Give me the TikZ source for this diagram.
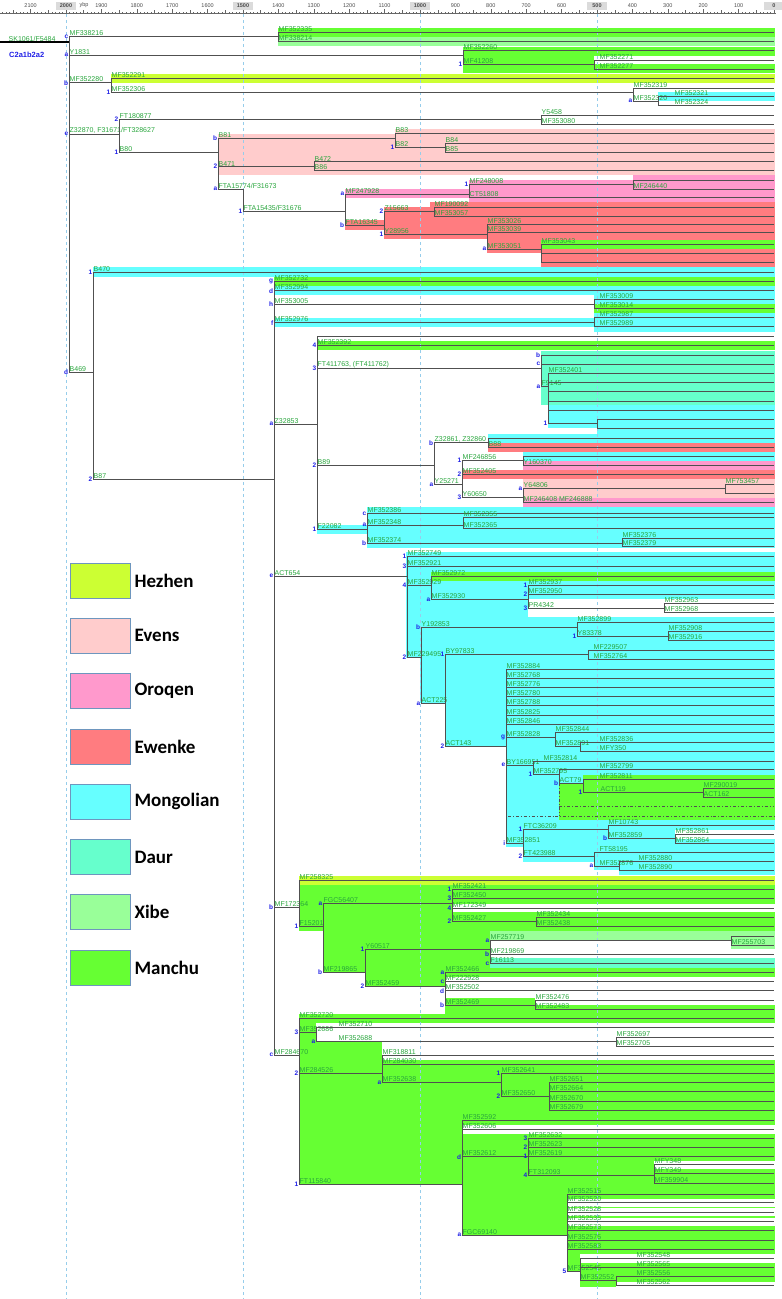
\documentclass[tikz,border=0pt]{standalone}
\usepackage{fontspec}
\setmainfont{Liberation Sans}
\newfontfamily\legfont{Carlito}
\usetikzlibrary{positioning}

\definecolor{hezhen}{HTML}{CCFF33}
\definecolor{evens}{HTML}{FFCCCC}
\definecolor{oroqen}{HTML}{FF99CC}
\definecolor{ewenke}{HTML}{FF7C80}
\definecolor{mongolian}{HTML}{66FFFF}
\definecolor{daur}{HTML}{66FFCC}
\definecolor{xibe}{HTML}{99FF99}
\definecolor{manchu}{HTML}{66FF33}
\definecolor{labgreen}{RGB}{40,165,60}
\definecolor{tagblue}{RGB}{30,30,230}
\definecolor{branch}{RGB}{80,80,80}
\definecolor{guidecol}{RGB}{150,205,235}
\definecolor{legedge}{RGB}{110,150,190}

\newcommand\xend{774}
\tikzset{
  edge/.style={draw=branch, line width=0.9pt},
  lbl/.style={anchor=south west, inner sep=0.5pt, text=labgreen, font=\fontsize{7}{8}\selectfont},
  tg/.style={anchor=east, inner sep=0.6pt, text=tagblue, font=\fontsize{6.5}{7}\selectfont\bfseries},
  guide/.style={draw=guidecol, dashed, line width=0.5pt},
  rul/.style={draw=black!60, line width=0.4pt},
  rlab/.style={inner sep=0pt, text=black!70, font=\fontsize{5.5}{6}\selectfont},
  legbox/.style={draw=legedge, line width=0.8pt, minimum width=60pt, minimum height=35pt, inner sep=0pt},
  legtxt/.style={inner sep=1pt, font=\legfont\bfseries\fontsize{19}{20}\selectfont},
  hapl/.style={anchor=west, inner sep=0pt, text=tagblue, font=\fontsize{7.5}{8}\selectfont\bfseries}
}
% band: colour, left x, top y, bottom y
\newcommand\band[4]{\fill[#1] (#2,#3) rectangle (\xend+1,#4);}
% branch: [label shift]{parent}{name}{x}{y}{label}{tag}
\newcommand\tbr[7][0]{%
  \coordinate (#3) at (#4,#5);
  \draw[edge] (#2) |- (#3);
  \node[lbl, xshift=#1] (#3-l) at (#2 |- #3) {#6};
  \node[tg] (#3-t) at (#2 |- #3) {#7};}
\newcommand\tleaf[6][0]{\tbr[#1]{#2}{#3}{\xend}{#4}{#5}{#6}}

\begin{document}
\begin{tikzpicture}[x=1pt,y=-1pt]
\useasboundingbox (0,0) rectangle (782,1299);

% population bands
\band{manchu}{278}{27.7}{36.7}
\band{xibe}{278}{36.7}{46}
\band{manchu}{463}{46.5}{73.3}
\band{white}{594}{55.5}{64.3}
\band{hezhen}{111}{73.5}{83}
\band{mongolian}{658}{92}{101}
\band{evens}{218}{134}{175}
\band{evens}{395}{129.3}{134}
\band{oroqen}{345}{189}{197.5}
\band{oroqen}{469}{179.5}{202}
\band{oroqen}{633}{175}{179.5}
\band{ewenke}{345}{220}{229.5}
\band{ewenke}{430}{202}{207}
\band{ewenke}{384}{207}{239}
\band{ewenke}{487}{239}{253}
\band{ewenke}{541}{253}{267}
\band{manchu}{541}{240}{249}
\band{mongolian}{93}{267}{276.5}
\band{manchu}{274}{276.5}{286}
\band{mongolian}{274}{286}{295}
\band{mongolian}{594}{295}{304}
\band{manchu}{594}{304}{313}
\band{mongolian}{594}{313}{331.5}
\band{mongolian}{274}{317.5}{327}
\band{manchu}{317}{341}{350}
\band{daur}{541}{350.5}{405}
\band{mongolian}{548}{405}{428}
\band{mongolian}{597}{428}{433.5}
\band{mongolian}{488}{433.5}{443}
\band{ewenke}{488}{443}{452}
\band{mongolian}{523}{452}{461}
\band{oroqen}{523}{461}{470}
\band{ewenke}{462}{470}{479.3}
\band{evens}{523}{479.3}{497.5}
\band{oroqen}{523}{497.5}{507}
\band{mongolian}{367}{507}{548}
\band{mongolian}{317}{525}{534}
\band{mongolian}{406}{552}{658}
\band{mongolian}{420}{658}{703}
\band{mongolian}{445}{703}{747}
\band{mongolian}{506}{747}{847}
\band{mongolian}{523}{847}{862}
\band{mongolian}{594}{862}{870}
\band{mongolian}{619}{870}{875}
\band{manchu}{431}{571.7}{580.7}
\band{white}{528}{599}{617}
\band{manchu}{583}{774.5}{783}
\band{manchu}{559}{783}{820}
\band{white}{675}{830}{838.5}
\band{hezhen}{299}{876}{885}
\band{manchu}{299}{885}{931}
\band{white}{452}{903.5}{912}
\band{manchu}{323}{931}{972.5}
\band{xibe}{490}{931}{941}
\band{white}{490}{941}{958}
\band{xibe}{731}{941}{948.5}
\band{daur}{490}{958}{967.5}
\band{manchu}{365}{972.5}{986.5}
\band{white}{445}{977}{996}
\band{manchu}{445}{998}{1013.5}
\band{white}{535}{995.5}{1004.5}
\band{manchu}{299}{1014}{1184}
\band{white}{316}{1023}{1042}
\band{white}{382}{1042}{1060}
\band{white}{462}{1124.5}{1133.5}
\band{white}{654}{1160.5}{1168.5}
\band{manchu}{462}{1184}{1235}
\band{white}{567}{1198.5}{1206.5}
\band{white}{567}{1208}{1216}
\band{white}{567}{1217.5}{1225.5}
\band{manchu}{567}{1235}{1272}
\band{manchu}{580}{1272}{1287}
\band{white}{580}{1254}{1262.5}
\band{white}{616}{1281.5}{1290}

% time guides
\foreach \t in {500,1000,1500,2000}
  \draw[guide] ({\xend-0.354*\t},14) -- ({\xend-0.354*\t},1299);

% ruler
\draw[rul] (0,13.5) -- (\xend+2,13.5);
\foreach \t in {0,10,...,2180}{
  \pgfmathsetmacro\tx{\xend-0.354*\t}
  \pgfmathsetmacro\th{mod(\t,100)==0 ? 5 : (mod(\t,50)==0 ? 3.5 : 2)}
  \draw[rul] (\tx,13.5) -- (\tx,13.5-\th);
}
\foreach \t in {100,200,300,400,600,700,800,900,1100,1200,1300,1400,1600,1700,1800,1900,2100}
  \node[rlab] (r\t) at ({\xend-0.354*\t},5.5) {\t};
\foreach \t in {0,500,1000,1500,2000}{
  \fill[gray!28] ({\xend-0.354*\t-10},1.5) rectangle ({\xend-0.354*\t+10},9.5);
  \node[rlab, font=\fontsize{5.5}{6}\selectfont\bfseries] (r\t) at ({\xend-0.354*\t},5.5) {\t};
}
\node[rlab] (ybp) at (84,5.5) {ybp};

% tree
\coordinate (root) at (0,42);
\coordinate (n0) at (69,42);
\draw[edge, draw=black, line width=1.3pt] (root) -- (n0);
\node[lbl, xshift=8] (root-l) at (root) {SK1061/F5484};
\node[hapl] (hap) at (9,55) {C2a1b2a2};

\tbr{n0}{mf338216}{278}{36.7}{MF338216}{c}
 \tleaf{mf338216}{mf352335}{32.3}{MF352335}{}
 \tleaf{mf338216}{mf338214}{41.7}{MF338214}{}
\tbr{n0}{y1831}{463}{55}{Y1831}{a}
 \tleaf{y1831}{mf352260}{50.7}{MF352260}{}
 \tbr{y1831}{mf41208}{594}{64.7}{MF41208}{1}
  \tleaf[5]{mf41208}{mf352271}{60}{MF352271}{}
  \tleaf[5]{mf41208}{mf352277}{69}{MF352277}{}
\tbr{n0}{mf352280}{111}{82.7}{MF352280}{b}
 \tleaf{mf352280}{mf352291}{78.7}{MF352291}{}
 \tbr{mf352280}{mf352306}{633}{92}{MF352306}{1}
  \tleaf{mf352306}{mf352319}{88}{MF352319}{}
  \tbr{mf352306}{mf352320}{658}{101}{MF352320}{a}
   \tleaf[16]{mf352320}{mf352321}{96.7}{MF352321}{}
   \tleaf[16]{mf352320}{mf352324}{105.7}{MF352324}{}
\tbr{n0}{z32870}{119}{134}{Z32870, F31671/FT328627}{e}
 \tbr{z32870}{ft180877}{541}{119.7}{FT180877}{2}
  \tleaf{ft180877}{y5458}{115.3}{Y5458}{}
  \tleaf{ft180877}{mf353080}{124.3}{MF353080}{}
 \tbr{z32870}{b80}{218}{152.7}{B80}{1}
  \tbr{b80}{b81}{395}{138.3}{B81}{b}
   \tleaf{b81}{b83}{133.7}{B83}{}
   \tbr{b81}{b82}{445}{147.3}{B82}{1}
    \tleaf{b82}{b84}{143.3}{B84}{}
    \tleaf{b82}{b85}{152.3}{B85}{}
  \tbr{b80}{b471}{314}{166.7}{B471}{2}
   \tleaf{b471}{b472}{161.7}{B472}{}
   \tleaf{b471}{b86}{170.7}{B86}{}
  \tbr{b80}{fta15774}{243}{189}{FTA15774/F31673}{a}
   \tbr{fta15774}{fta15435}{345}{211.3}{FTA15435/F31676}{1}
    \tbr{fta15435}{mf247928}{469}{194}{MF247928}{a}
     \tbr{mf247928}{mf248008}{633}{184.3}{MF248008}{1}
      \tleaf{mf248008}{u1}{180}{}{}
      \tleaf{mf248008}{mf246440}{189}{MF246440}{}
     \tleaf{mf247928}{ct51808}{197.5}{CT51808}{}
    \tbr{fta15435}{fta16345}{384}{225}{FTA16345}{b}
     \tbr{fta16345}{z15663}{434}{211.7}{Z15663}{2}
      \tleaf{z15663}{mf190092}{207.3}{MF190092}{}
      \tleaf{z15663}{mf353057}{216.7}{MF353057}{}
     \tbr{fta16345}{y28956}{487}{234}{Y28956}{1}
      \tleaf{y28956}{mf353026}{224.5}{MF353026}{}
      \tleaf{y28956}{mf353039}{232.5}{MF353039}{}
      \tbr{y28956}{mf353051}{541}{249}{MF353051}{a}
       \tleaf{mf353051}{mf353043}{244.5}{MF353043}{}
       \tleaf{mf353051}{u2}{253.5}{}{}
       \tleaf{mf353051}{u3}{262.7}{}{}
\tbr{n0}{b469}{93}{372}{B469}{d}
 \tleaf{b469}{b470}{272}{B470}{1}
 \tbr{b469}{b87}{274}{479}{B87}{2}
  \tleaf{b87}{mf352732}{281.7}{MF352732}{g}
  \tleaf{b87}{mf352994}{290.7}{MF352994}{d}
  \tbr{b87}{mf353005}{594}{304.3}{MF353005}{h}
   \tleaf[5]{mf353005}{mf353009}{299.3}{MF353009}{}
   \tleaf[5]{mf353005}{mf353014}{308}{MF353014}{}
  \tbr{b87}{mf352976}{594}{322.7}{MF352976}{f}
   \tleaf[5]{mf352976}{mf352987}{317.3}{MF352987}{}
   \tleaf[5]{mf352976}{mf352989}{326.3}{MF352989}{}
  \tbr{b87}{z32853}{317}{424}{Z32853}{a}
   \tleaf{z32853}{u4}{336.7}{}{}
   \tleaf{z32853}{mf352392}{345.7}{MF352392}{4}
   \tbr{z32853}{ft411763}{541}{368.3}{FT411763, (FT411762)}{3}
    \tleaf{ft411763}{u5}{355}{}{b}
    \tleaf{ft411763}{u6}{364}{}{c}
    \tbr{ft411763}{f9145}{548}{386.7}{F9145}{a}
     \tleaf{f9145}{mf352401}{373.3}{MF352401}{}
     \tleaf{f9145}{u7}{382.7}{}{}
     \tleaf{f9145}{u8}{391.7}{}{}
     \tleaf{f9145}{u9}{401.7}{}{}
     \tleaf{f9145}{u10}{410.7}{}{}
     \tbr{f9145}{n1a}{597}{423}{}{1}
      \tleaf{n1a}{u11}{419.3}{}{}
      \tleaf{n1a}{u12}{428}{}{}
   \tbr{z32853}{b89}{434}{465.7}{B89}{2}
    \tbr{b89}{z32861}{488}{442.7}{Z32861, Z32860}{b}
     \tleaf{z32861}{u13}{438.3}{}{}
     \tleaf{z32861}{b88}{447}{B88}{}
    \tbr{b89}{y25271}{462}{484.3}{Y25271}{a}
     \tbr{y25271}{mf246856}{523}{460.7}{MF246856}{1}
      \tleaf{mf246856}{u14}{456.7}{}{}
      \tleaf{mf246856}{y160370}{465.5}{Y160370}{}
     \tleaf{y25271}{mf352405}{474.3}{MF352405}{2}
     \tbr{y25271}{y60650}{523}{497.7}{Y60650}{3}
      \tbr{y60650}{y64806}{725}{488.3}{Y64806}{a}
       \tleaf{y64806}{mf753457}{484.7}{MF753457}{}
       \tleaf{y64806}{u15}{493.3}{}{}
      \tleaf{y60650}{mf246408}{502.7}{MF246408 MF246888}{}
   \tbr{z32853}{f22082}{367}{529.3}{F22082}{1}
    \tleaf{f22082}{mf352386}{513.3}{MF352386}{c}
    \tbr{f22082}{mf352348}{463}{525}{MF352348}{a}
     \tleaf{mf352348}{mf352355}{517.7}{MF352355}{}
     \tleaf{mf352348}{mf352365}{528.3}{MF352365}{}
    \tbr{f22082}{mf352374}{622}{543.3}{MF352374}{b}
     \tleaf{mf352374}{mf352376}{538.3}{MF352376}{}
     \tleaf{mf352374}{mf352379}{546.7}{MF352379}{}
  \tbr{b87}{act654}{407}{576}{ACT654}{e}
   \tleaf{act654}{mf352749}{556.7}{MF352749}{1}
   \tleaf{act654}{mf352921}{566.7}{MF352921}{3}
   \tbr{act654}{mf352929}{431}{585}{MF352929}{4}
    \tleaf{mf352929}{mf352972}{576}{MF352972}{}
    \tbr{mf352929}{mf352930}{528}{599.3}{MF352930}{a}
     \tleaf{mf352930}{mf352937}{585}{MF352937}{1}
     \tleaf{mf352930}{mf352950}{594.3}{MF352950}{2}
     \tbr{mf352930}{pr4342}{664}{608.3}{PR4342}{3}
      \tleaf{pr4342}{mf352963}{603.3}{MF352963}{}
      \tleaf{pr4342}{mf352968}{612.7}{MF352968}{}
   \tbr{act654}{mf229495}{421}{657.3}{MF229495}{2}
    \tbr{mf229495}{y192853}{577}{627.3}{Y192853}{b}
     \tleaf{y192853}{mf352899}{622.7}{MF352899}{}
     \tbr{y192853}{y83378}{668}{636.7}{Y83378}{1}
      \tleaf{y83378}{mf352908}{631.7}{MF352908}{}
      \tleaf{y83378}{mf352916}{640.7}{MF352916}{}
    \tbr{mf229495}{act225}{445}{703.3}{ACT225}{a}
     \tbr{act225}{by97833}{588}{654.3}{BY97833}{1}
      \tleaf[5]{by97833}{mf229507}{650}{MF229507}{}
      \tleaf[5]{by97833}{mf352764}{659}{MF352764}{}
     \tbr{act225}{act143}{506}{746.7}{ACT143}{2}
      \tleaf{act143}{mf352884}{669}{MF352884}{}
      \tleaf{act143}{mf352768}{678.3}{MF352768}{}
      \tleaf{act143}{mf352776}{687.3}{MF352776}{}
      \tleaf{act143}{mf352780}{696.7}{MF352780}{}
      \tleaf{act143}{mf352788}{705.7}{MF352788}{}
      \tleaf{act143}{mf352825}{715}{MF352825}{}
      \tleaf{act143}{mf352846}{724}{MF352846}{}
      \tbr{act143}{mf352828}{555}{737.3}{MF352828}{g}
       \tleaf{mf352828}{mf352844}{732.7}{MF352844}{}
       \tbr{mf352828}{mf352891}{580}{746}{MF352891}{}
        \tleaf[19]{mf352891}{mf352836}{742.3}{MF352836}{}
        \tleaf[19]{mf352891}{mfy350}{751.7}{MFY350}{}
      \tbr{act143}{by166951}{533}{765}{BY166951}{e}
       \tleaf[10]{by166951}{mf352814}{761}{MF352814}{}
       \tbr{by166951}{mf352795}{559}{774}{MF352795}{1}
        \tleaf[40]{mf352795}{mf352799}{769.7}{MF352799}{}
        \tbr{mf352795}{act79}{583}{783.3}{ACT79}{b}
         \tleaf[16]{act79}{mf352811}{779}{MF352811}{}
         \tbr[17]{act79}{act119}{703}{792.7}{ACT119}{1}
          \tleaf{act119}{mf290019}{788.3}{MF290019}{}
          \tleaf{act119}{act162}{797.3}{ACT162}{}
      \tbr{act143}{mf352851}{523}{843.3}{MF352851}{i}
       \tbr{mf352851}{ftc36209}{608}{829.7}{FTC36209}{1}
        \tleaf{ftc36209}{mf10743}{825.7}{MF10743}{}
        \tbr{ftc36209}{mf352859}{675}{838.3}{MF352859}{b}
         \tleaf{mf352859}{mf352861}{834.7}{MF352861}{}
         \tleaf{mf352859}{mf352864}{843.3}{MF352864}{}
       \tbr{mf352851}{ft423988}{594}{856.7}{FT423988}{2}
        \tleaf[5]{ft423988}{ft58195}{852.7}{FT58195}{}
        \tbr[5]{ft423988}{mf352876}{619}{866}{MF352876}{a}
         \tleaf[19]{mf352876}{mf352880}{861.7}{MF352880}{}
         \tleaf[19]{mf352876}{mf352890}{870.7}{MF352890}{}
  \tbr{b87}{mf172364}{299}{907.3}{MF172364}{b}
   \tleaf{mf172364}{mf258325}{880}{MF258325}{}
   \tbr{mf172364}{f15201}{323}{926}{F15201}{1}
    \tbr{f15201}{fgc56407}{452}{903.3}{FGC56407}{a}
     \tleaf{fgc56407}{mf352421}{889.3}{MF352421}{1}
     \tleaf{fgc56407}{mf352450}{898.7}{MF352450}{3}
     \tleaf{fgc56407}{mf172349}{908}{MF172349}{4}
     \tbr{fgc56407}{mf352427}{536}{921.7}{MF352427}{2}
      \tleaf{mf352427}{mf352434}{917.3}{MF352434}{}
      \tleaf{mf352427}{mf352438}{926}{MF352438}{}
    \tbr{f15201}{mf219865}{365}{972.3}{MF219865}{b}
     \tbr{mf219865}{y60517}{490}{949.3}{Y60517}{1}
      \tbr{y60517}{mf257719}{731}{940.7}{MF257719}{a}
       \tleaf{mf257719}{u17}{936.7}{}{}
       \tleaf{mf257719}{mf255703}{945}{MF255703}{}
      \tleaf{y60517}{mf219869}{954}{MF219869}{b}
      \tleaf{y60517}{f16113}{963.3}{F16113}{c}
     \tbr{mf219865}{mf352459}{445}{986}{MF352459}{2}
      \tleaf{mf352459}{mf352466}{972.7}{MF352466}{a}
      \tleaf{mf352459}{mf222928}{981.7}{MF222928}{c}
      \tleaf{mf352459}{mf352502}{990.7}{MF352502}{d}
      \tbr{mf352459}{mf352469}{535}{1005}{MF352469}{b}
       \tleaf{mf352469}{mf352476}{1000}{MF352476}{}
       \tleaf{mf352469}{mf352483}{1009.3}{MF352483}{}
  \tbr{b87}{mf284670}{299}{1055}{MF284670}{c}
   \tleaf{mf284670}{mf352720}{1018.3}{MF352720}{}
   \tbr{mf284670}{mf352686}{316}{1032.7}{MF352686}{3}
    \tleaf[22]{mf352686}{mf352710}{1027.3}{MF352710}{}
    \tbr[22]{mf352686}{mf352688}{616}{1041.7}{MF352688}{a}
     \tleaf{mf352688}{mf352697}{1037.3}{MF352697}{}
     \tleaf{mf352688}{mf352705}{1046.7}{MF352705}{}
   \tbr{mf284670}{mf284526}{382}{1073.3}{MF284526}{2}
    \tleaf{mf284526}{mf318811}{1055.7}{MF318811}{}
    \tleaf{mf284526}{mf284030}{1064}{MF284030}{}
    \tbr{mf284526}{mf352638}{501}{1082.7}{MF352638}{a}
     \tleaf{mf352638}{mf352641}{1073.3}{MF352641}{1}
     \tbr{mf352638}{mf352650}{549}{1096.7}{MF352650}{2}
      \tleaf{mf352650}{mf352651}{1082.7}{MF352651}{}
      \tleaf{mf352650}{mf352664}{1091.7}{MF352664}{}
      \tleaf{mf352650}{mf352670}{1101}{MF352670}{}
      \tleaf{mf352650}{mf352679}{1110.3}{MF352679}{}
   \tbr{mf284670}{ft115840}{462}{1184}{FT115840}{1}
    \tleaf{ft115840}{mf352592}{1120}{MF352592}{}
    \tleaf{ft115840}{mf352606}{1129}{MF352606}{}
    \tbr{ft115840}{mf352612}{528}{1156.7}{MF352612}{d}
     \tleaf{mf352612}{mf352632}{1138.3}{MF352632}{3}
     \tleaf{mf352612}{mf352623}{1147.3}{MF352623}{2}
     \tleaf{mf352612}{mf352619}{1156}{MF352619}{1}
     \tbr{mf352612}{ft312093}{654}{1175.3}{FT312093}{4}
      \tleaf{ft312093}{mfy348}{1164.7}{MFY348}{}
      \tleaf{ft312093}{mfy349}{1173.3}{MFY349}{}
      \tleaf{ft312093}{mf359904}{1183.3}{MF359904}{}
    \tbr{ft115840}{fgc69140}{567}{1235}{FGC69140}{a}
     \tleaf{fgc69140}{mf352515}{1194}{MF352515}{}
     \tleaf{fgc69140}{mf352520}{1202.7}{MF352520}{}
     \tleaf{fgc69140}{mf352528}{1212.3}{MF352528}{}
     \tleaf{fgc69140}{mf352535}{1221.3}{MF352535}{}
     \tleaf{fgc69140}{mf352573}{1230.3}{MF352573}{}
     \tleaf{fgc69140}{mf352575}{1240}{MF352575}{}
     \tleaf{fgc69140}{mf352583}{1249}{MF352583}{}
     \tbr{fgc69140}{mf352545}{580}{1271.7}{MF352545}{5}
      \tleaf[56]{mf352545}{mf352548}{1258.3}{MF352548}{}
      \tleaf[56]{mf352545}{mf352565}{1267.3}{MF352565}{}
      \tbr{mf352545}{mf352552}{616}{1280.7}{MF352552}{}
       \tleaf[20]{mf352552}{mf352556}{1276}{MF352556}{}
       \tleaf[20]{mf352552}{mf352562}{1285.7}{MF352562}{}

% unresolved lineage
\coordinate (dd1) at (\xend,806.7);
\coordinate (dd2) at (508,816);
\coordinate (dd3) at (\xend,816);
\draw[edge, dash dot, line width=0.6pt] (mf352795 |- act79) |- (dd1);
\draw[edge, dash dot, line width=0.6pt] (mf352795 |- act79) -- (mf352795 |- dd2);
\draw[edge, dash dot, line width=0.6pt] (dd2) -- (dd3);

% legend
\foreach \nm/\cl [count=\i from 0] in {Hezhen/hezhen,Evens/evens,Oroqen/oroqen,Ewenke/ewenke,Mongolian/mongolian,Daur/daur,Xibe/xibe,Manchu/manchu}{
  \node[legbox, fill=\cl] (lb\i) at (100,{580.5+55.3*\i}) {};
  \node[legtxt, right=3pt of lb\i] (lt\i) {\nm};
}
\end{tikzpicture}
\end{document}
